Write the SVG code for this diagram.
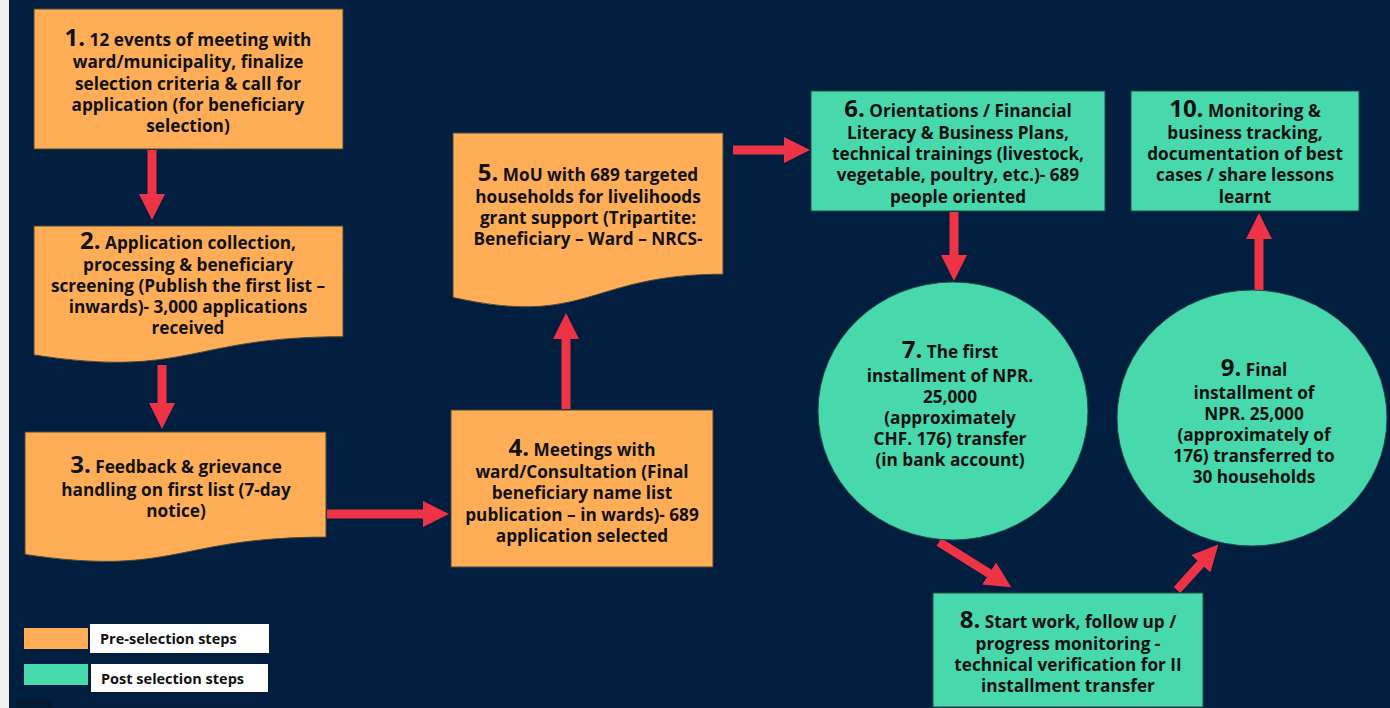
<svg xmlns="http://www.w3.org/2000/svg" width="1390" height="708" viewBox="0 0 1390 708">
<defs>
<style>
.pre{fill:#FFAE57;stroke:#4a4a3a;stroke-width:1}
.post{fill:#47D8AC;stroke:#1d4a4a;stroke-width:1}
.t{font-family:"Open Sans","Noto Sans","DejaVu Sans",sans-serif;font-weight:700;font-size:17.2px;fill:#111;text-anchor:middle}
.n{font-size:24px}
.arr{stroke:#EF3347;stroke-width:9;fill:none;marker-end:url(#ah)}
.lg{font-family:"Open Sans","Noto Sans","DejaVu Sans",sans-serif;font-weight:700;font-size:14.5px;fill:#111}
</style>
<marker id="ah" viewBox="0 0 26 26" markerUnits="userSpaceOnUse" markerWidth="26" markerHeight="26" refX="1" refY="13" orient="auto">
<path d="M0,0 L26,13 L0,26 Z" fill="#EF3347"/>
</marker>
</defs>
<rect x="0" y="0" width="1390" height="708" fill="#011E3F"/>
<rect x="0" y="0" width="9" height="708" fill="#F0F0F0"/>

<g id="connectors">
<line class="arr" x1="152" y1="150" x2="152" y2="195"/>
<line class="arr" x1="162" y1="365" x2="162" y2="404"/>
<line class="arr" x1="327" y1="514" x2="424" y2="514"/>
<line class="arr" x1="566" y1="409" x2="566" y2="338"/>
<line class="arr" x1="733" y1="150" x2="785" y2="150"/>
<line class="arr" x1="954" y1="212" x2="954" y2="256"/>
<line class="arr" x1="939" y1="542" x2="990" y2="574"/>
<line class="arr" x1="1177" y1="590" x2="1201.5" y2="563"/>
<line class="arr" x1="1259" y1="290" x2="1259" y2="238"/>
</g>

<g id="node1">
<rect class="pre" x="34" y="9" width="309" height="140"/>
<text class="t"><tspan x="188" y="46"><tspan class="n">1.</tspan> 12 events of meeting with</tspan><tspan x="188" y="68">ward/municipality, finalize</tspan><tspan x="188" y="90">selection criteria &amp; call for</tspan><tspan x="188" y="111">application (for beneficiary</tspan><tspan x="188" y="132">selection)</tspan></text>
</g>

<g id="node2">
<path class="pre" d="M34,226 H343 V336.7 C188.5,336.7 188.5,378.8 34,354.9 Z"/>
<text class="t"><tspan x="188" y="249"><tspan class="n">2.</tspan> Application collection,</tspan><tspan x="188" y="271">processing &amp; beneficiary</tspan><tspan x="188" y="292">screening (Publish the first list –</tspan><tspan x="188" y="313">inwards)- 3,000 applications</tspan><tspan x="188" y="334">received</tspan></text>
</g>

<g id="node3">
<path class="pre" d="M25,432 H326 V537.1 C175.5,537.1 175.5,577.1 25,554.4 Z"/>
<text class="t"><tspan x="176" y="473"><tspan class="n">3.</tspan> Feedback &amp; grievance</tspan><tspan x="176" y="496">handling on first list (7-day</tspan><tspan x="176" y="517">notice)</tspan></text>
</g>

<g id="node4">
<rect class="pre" x="451" y="410" width="262" height="157"/>
<text class="t"><tspan x="582" y="456"><tspan class="n">4.</tspan> Meetings with</tspan><tspan x="582" y="478">ward/Consultation (Final</tspan><tspan x="582" y="499">beneficiary name list</tspan><tspan x="582" y="521">publication – in wards)- 689</tspan><tspan x="582" y="542">application selected</tspan></text>
</g>

<g id="node5">
<path class="pre" d="M453,133 H723 V274.2 C588,274.2 588,327.9 453,297.4 Z"/>
<text class="t"><tspan x="588" y="181"><tspan class="n">5.</tspan> MoU with 689 targeted</tspan><tspan x="588" y="203">households for livelihoods</tspan><tspan x="588" y="224">grant support (Tripartite:</tspan><tspan x="588" y="245">Beneficiary – Ward – NRCS-</tspan></text>
</g>

<g id="node6">
<rect class="post" x="811" y="91" width="294" height="120"/>
<text class="t"><tspan x="958" y="117"><tspan class="n">6.</tspan> Orientations / Financial</tspan><tspan x="958" y="139">Literacy &amp; Business Plans,</tspan><tspan x="958" y="160">technical trainings (livestock,</tspan><tspan x="958" y="181">vegetable, poultry, etc.)- 689</tspan><tspan x="958" y="203">people oriented</tspan></text>
</g>

<g id="node7">
<ellipse class="post" cx="953" cy="411" rx="135" ry="129"/>
<text class="t"><tspan x="950" y="358"><tspan class="n">7.</tspan> The first</tspan><tspan x="950" y="382">installment of NPR.</tspan><tspan x="950" y="403">25,000</tspan><tspan x="950" y="424">(approximately</tspan><tspan x="950" y="445">CHF. 176) transfer</tspan><tspan x="950" y="466">(in bank account)</tspan></text>
</g>

<g id="node8">
<rect class="post" x="933" y="593" width="270" height="114"/>
<text class="t"><tspan x="1068" y="628"><tspan class="n">8.</tspan> Start work, follow up /</tspan><tspan x="1068" y="650">progress monitoring -</tspan><tspan x="1068" y="671">technical verification for II</tspan><tspan x="1068" y="692">installment transfer</tspan></text>
</g>

<g id="node9">
<ellipse class="post" cx="1252" cy="418" rx="135" ry="128"/>
<text class="t"><tspan x="1254" y="376"><tspan class="n">9.</tspan> Final</tspan><tspan x="1254" y="399">installment of</tspan><tspan x="1254" y="420">NPR. 25,000</tspan><tspan x="1254" y="441">(approximately of</tspan><tspan x="1254" y="462">176) transferred to</tspan><tspan x="1254" y="483">30 households</tspan></text>
</g>

<g id="node10">
<rect class="post" x="1131" y="91" width="228" height="120"/>
<text class="t"><tspan x="1245" y="117"><tspan class="n">10.</tspan> Monitoring &amp;</tspan><tspan x="1245" y="139">business tracking,</tspan><tspan x="1245" y="160">documentation of best</tspan><tspan x="1245" y="181">cases / share lessons</tspan><tspan x="1245" y="203">learnt</tspan></text>
</g>

<g id="legend">
<rect x="24" y="628" width="64" height="21" fill="#FFAE57"/>
<rect x="90" y="624" width="179" height="29" fill="#FFFFFF"/>
<text class="lg" x="100" y="644">Pre-selection steps</text>
<rect x="24" y="664" width="64" height="21" fill="#47D8AC"/>
<rect x="91" y="664" width="177" height="28" fill="#FFFFFF"/>
<text class="lg" x="101" y="684">Post selection steps</text>
<text x="16" y="707" font-family="'Liberation Sans',Arial,sans-serif" font-size="11" fill="#111">Internal</text>
</g>
</svg>
